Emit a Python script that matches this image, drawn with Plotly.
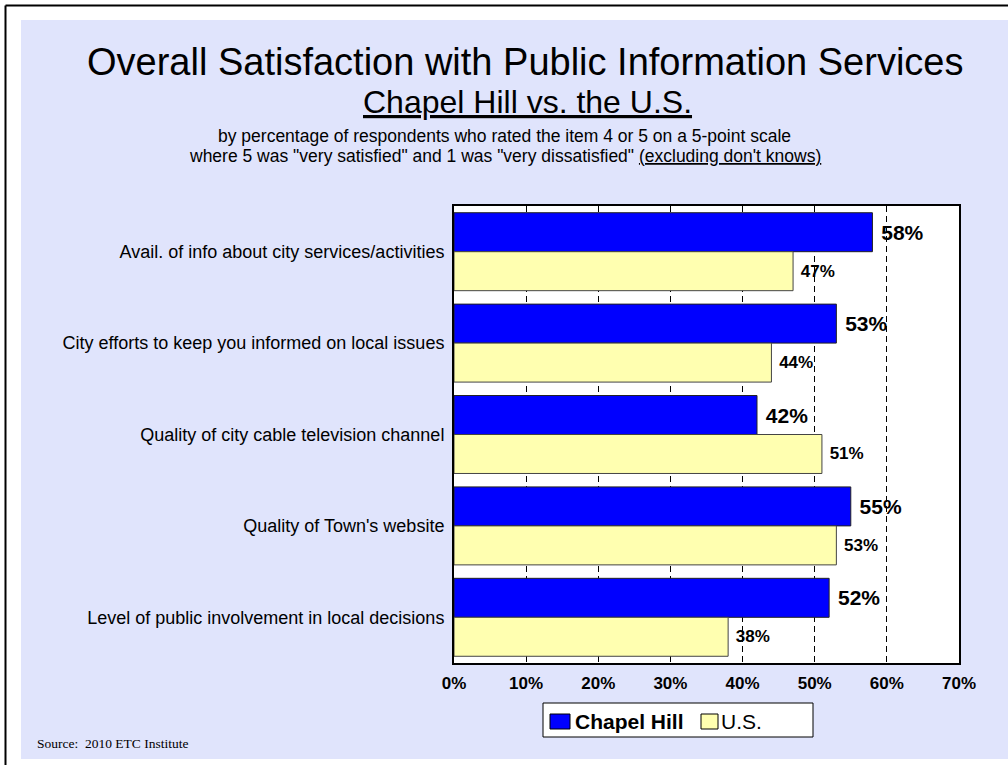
import plotly.graph_objects as go

# Survey items and results (% rating 4 or 5)
categories = [
    "Avail. of info about city services/activities",
    "City efforts to keep you informed on local issues",
    "Quality of city cable television channel",
    "Quality of Town's website",
    "Level of public involvement in local decisions",
]
chapel_hill = [58, 53, 42, 55, 52]
us = [47, 44, 51, 53, 38]
x_ticks = [0, 10, 20, 30, 40, 50, 60, 70]
x_tick_labels = ["0%", "10%", "20%", "30%", "40%", "50%", "60%", "70%"]

W, H = 1008, 765
PL, PR, PT, PB = 454, 959, 206, 663  # plot area in pixels
SANS = "Liberation Sans, Arial, sans-serif"
SERIF = "Liberation Serif, Times New Roman, serif"


def px(x):
    return (x - PL) / (PR - PL)


def py(y):
    return (PB - y) / (PB - PT)


fig = go.Figure()
fig.add_trace(go.Bar(
    y=categories, x=chapel_hill, orientation="h", name="Chapel Hill",
    marker=dict(color="#0000FF", line=dict(color="#222222", width=1)),
    text=[f" {v}%" for v in chapel_hill], texttemplate="%{text}",
    textposition="outside", cliponaxis=False,
    textfont=dict(family=SANS, size=21, color="black", weight="bold"),
    showlegend=False,
))
fig.add_trace(go.Bar(
    y=categories, x=us, orientation="h", name="U.S.",
    marker=dict(color="#FFFFB0", line=dict(color="#444444", width=1)),
    text=[f" {v}%" for v in us], texttemplate="%{text}",
    textposition="outside", cliponaxis=False,
    textfont=dict(family=SANS, size=17, color="black", weight="bold"),
    showlegend=False,
))

shapes = [
    # slide background and frame
    dict(type="rect", xref="paper", yref="paper", layer="below",
         x0=px(21), x1=px(1012), y0=py(759), y1=py(20),
         fillcolor="#E0E4FC", line=dict(width=0)),
    dict(type="rect", xref="paper", yref="paper", layer="below",
         x0=0, x1=1, y0=0, y1=1, fillcolor="white", line=dict(width=0)),
    dict(type="line", xref="paper", yref="paper",
         x0=px(5.5), x1=px(1012), y0=py(5.5), y1=py(5.5),
         line=dict(color="black", width=2)),
    dict(type="line", xref="paper", yref="paper",
         x0=px(5.5), x1=px(5.5), y0=py(5.5), y1=py(770),
         line=dict(color="black", width=2)),
    # legend box and swatches
    dict(type="rect", xref="paper", yref="paper",
         x0=px(543), x1=px(813), y0=py(737), y1=py(703),
         fillcolor="white", line=dict(color="black", width=1)),
    dict(type="rect", xref="paper", yref="paper",
         x0=px(550), x1=px(570), y0=py(729), y1=py(714),
         fillcolor="#0000FF", line=dict(color="black", width=1)),
    dict(type="rect", xref="paper", yref="paper",
         x0=px(701), x1=px(718), y0=py(729), y1=py(714),
         fillcolor="#FFFFB0", line=dict(color="black", width=1)),
]

annotations = [
    dict(text="Overall Satisfaction with Public Information Services",
         x=px(525), y=py(62), font=dict(family=SANS, size=38, color="black")),
    dict(text="<u>Chapel Hill vs. the U.S.</u>",
         x=px(527), y=py(102), font=dict(family=SANS, size=32, color="black")),
    dict(text="by percentage of respondents who rated the item 4 or 5 on a 5-point scale",
         x=px(504), y=py(135.5), font=dict(family=SANS, size=17.5, color="black")),
    dict(text="where 5 was \"very satisfied\" and 1 was \"very dissatisfied\" <u>(excluding don't knows)</u>",
         x=px(505), y=py(155.7), font=dict(family=SANS, size=17.5, color="black")),
    dict(text="Source:\u00a0 2010 ETC Institute", x=px(35), y=py(743.5), xanchor="left",
         font=dict(family=SERIF, size=13.5, color="black")),
    dict(text="<b>Chapel Hill</b>", x=px(573), y=py(721.5), xanchor="left",
         font=dict(family=SANS, size=21, color="black")),
    dict(text="U.S.", x=px(719), y=py(721.5), xanchor="left",
         font=dict(family=SANS, size=21, color="black")),
]
for a in annotations:
    a.setdefault("xanchor", "center")
    a.update(xref="paper", yref="paper", yanchor="middle", showarrow=False)

fig.update_layout(
    width=W, height=H,
    margin=dict(l=PL, r=W - PR, t=PT, b=H - PB, pad=0),
    paper_bgcolor="white", plot_bgcolor="white",
    barmode="group", bargap=0.147, bargroupgap=0,
    shapes=shapes, annotations=annotations,
    showlegend=False,
)
fig.update_xaxes(
    range=[0, 70], tickmode="array", tickvals=x_ticks, ticktext=x_tick_labels,
    tickfont=dict(family=SANS, size=17, color="black", weight="bold"),
    showgrid=True, gridcolor="black", gridwidth=1, griddash="6px,4px",
    zeroline=False, showline=True, linecolor="black", linewidth=2, mirror=True,
    ticks="", ticklabelstandoff=4,
)
fig.update_yaxes(
    autorange="reversed", showgrid=False, zeroline=False,
    tickfont=dict(family=SANS, size=18, color="black"),
    showline=True, linecolor="black", linewidth=2, mirror=True,
    ticks="", ticklabelstandoff=4,
)

fig.write_html("out.html")
